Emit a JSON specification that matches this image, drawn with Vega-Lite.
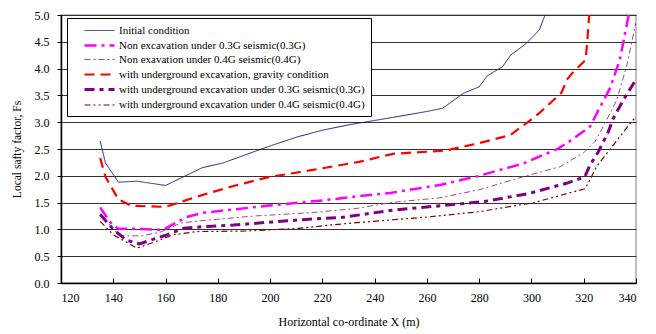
{
  "$schema": "https://vega.github.io/schema/vega-lite/v6.json",
  "width": 575,
  "height": 268,
  "autosize": "none",
  "padding": {"left": 61, "top": 15, "right": 20, "bottom": 51},
  "background": "white",
  "config": {
    "font": "Liberation Serif",
    "view": {"stroke": "#aaaaaa", "strokeWidth": 1.5},
    "axis": {"labelFont": "Liberation Serif", "titleFont": "Liberation Serif", "labelColor": "black", "titleColor": "black", "titleFontWeight": "normal", "labelFontSize": 12, "titleFontSize": 12, "domainColor": "black", "tickColor": "black"},
    "legend": {"labelFont": "Liberation Serif", "labelFontSize": 11, "labelColor": "black"}
  },
  "data": {"values": [
    {"s": "Initial condition", "x": 135, "y": 2.65},
    {"s": "Initial condition", "x": 137, "y": 2.24},
    {"s": "Initial condition", "x": 142, "y": 1.88},
    {"s": "Initial condition", "x": 149, "y": 1.9},
    {"s": "Initial condition", "x": 160, "y": 1.82},
    {"s": "Initial condition", "x": 174, "y": 2.15},
    {"s": "Initial condition", "x": 182, "y": 2.24},
    {"s": "Initial condition", "x": 199, "y": 2.54},
    {"s": "Initial condition", "x": 210, "y": 2.72},
    {"s": "Initial condition", "x": 220, "y": 2.85},
    {"s": "Initial condition", "x": 230, "y": 2.95},
    {"s": "Initial condition", "x": 247, "y": 3.09},
    {"s": "Initial condition", "x": 260, "y": 3.2},
    {"s": "Initial condition", "x": 266, "y": 3.26},
    {"s": "Initial condition", "x": 274, "y": 3.54},
    {"s": "Initial condition", "x": 280, "y": 3.66},
    {"s": "Initial condition", "x": 283, "y": 3.86},
    {"s": "Initial condition", "x": 289, "y": 4.04},
    {"s": "Initial condition", "x": 292, "y": 4.25},
    {"s": "Initial condition", "x": 298, "y": 4.47},
    {"s": "Initial condition", "x": 303, "y": 4.72},
    {"s": "Initial condition", "x": 305.2, "y": 5.0},

    {"s": "Non excavation under 0.3G seismic(0.3G)", "x": 135, "y": 1.41},
    {"s": "Non excavation under 0.3G seismic(0.3G)", "x": 138.7, "y": 1.14},
    {"s": "Non excavation under 0.3G seismic(0.3G)", "x": 142, "y": 1.01},
    {"s": "Non excavation under 0.3G seismic(0.3G)", "x": 150, "y": 1.01},
    {"s": "Non excavation under 0.3G seismic(0.3G)", "x": 159, "y": 0.99},
    {"s": "Non excavation under 0.3G seismic(0.3G)", "x": 168, "y": 1.23},
    {"s": "Non excavation under 0.3G seismic(0.3G)", "x": 174.4, "y": 1.31},
    {"s": "Non excavation under 0.3G seismic(0.3G)", "x": 198.7, "y": 1.44},
    {"s": "Non excavation under 0.3G seismic(0.3G)", "x": 220, "y": 1.54},
    {"s": "Non excavation under 0.3G seismic(0.3G)", "x": 234, "y": 1.62},
    {"s": "Non excavation under 0.3G seismic(0.3G)", "x": 246, "y": 1.68},
    {"s": "Non excavation under 0.3G seismic(0.3G)", "x": 265, "y": 1.83},
    {"s": "Non excavation under 0.3G seismic(0.3G)", "x": 280, "y": 2.0},
    {"s": "Non excavation under 0.3G seismic(0.3G)", "x": 288, "y": 2.11},
    {"s": "Non excavation under 0.3G seismic(0.3G)", "x": 297, "y": 2.23},
    {"s": "Non excavation under 0.3G seismic(0.3G)", "x": 304.5, "y": 2.39},
    {"s": "Non excavation under 0.3G seismic(0.3G)", "x": 310, "y": 2.5},
    {"s": "Non excavation under 0.3G seismic(0.3G)", "x": 315.4, "y": 2.67},
    {"s": "Non excavation under 0.3G seismic(0.3G)", "x": 322.4, "y": 2.92},
    {"s": "Non excavation under 0.3G seismic(0.3G)", "x": 330, "y": 3.63},
    {"s": "Non excavation under 0.3G seismic(0.3G)", "x": 333.8, "y": 4.16},
    {"s": "Non excavation under 0.3G seismic(0.3G)", "x": 337.2, "y": 5.0},

    {"s": "Non exavation under 0.4G seismic(0.4G)", "x": 135, "y": 1.3},
    {"s": "Non exavation under 0.4G seismic(0.4G)", "x": 140, "y": 1.0},
    {"s": "Non exavation under 0.4G seismic(0.4G)", "x": 143, "y": 0.88},
    {"s": "Non exavation under 0.4G seismic(0.4G)", "x": 151, "y": 0.88},
    {"s": "Non exavation under 0.4G seismic(0.4G)", "x": 158, "y": 0.95},
    {"s": "Non exavation under 0.4G seismic(0.4G)", "x": 166, "y": 1.12},
    {"s": "Non exavation under 0.4G seismic(0.4G)", "x": 173, "y": 1.16},
    {"s": "Non exavation under 0.4G seismic(0.4G)", "x": 194, "y": 1.25},
    {"s": "Non exavation under 0.4G seismic(0.4G)", "x": 215, "y": 1.31},
    {"s": "Non exavation under 0.4G seismic(0.4G)", "x": 233, "y": 1.39},
    {"s": "Non exavation under 0.4G seismic(0.4G)", "x": 246, "y": 1.5},
    {"s": "Non exavation under 0.4G seismic(0.4G)", "x": 265, "y": 1.59},
    {"s": "Non exavation under 0.4G seismic(0.4G)", "x": 280, "y": 1.74},
    {"s": "Non exavation under 0.4G seismic(0.4G)", "x": 296, "y": 1.97},
    {"s": "Non exavation under 0.4G seismic(0.4G)", "x": 311, "y": 2.17},
    {"s": "Non exavation under 0.4G seismic(0.4G)", "x": 320, "y": 2.43},
    {"s": "Non exavation under 0.4G seismic(0.4G)", "x": 324.3, "y": 2.64},
    {"s": "Non exavation under 0.4G seismic(0.4G)", "x": 327.5, "y": 2.92},
    {"s": "Non exavation under 0.4G seismic(0.4G)", "x": 332.6, "y": 3.41},
    {"s": "Non exavation under 0.4G seismic(0.4G)", "x": 336.4, "y": 4.04},
    {"s": "Non exavation under 0.4G seismic(0.4G)", "x": 339.9, "y": 4.85},

    {"s": "with underground excavation, gravity condition", "x": 135, "y": 2.33},
    {"s": "with underground excavation, gravity condition", "x": 137, "y": 1.98},
    {"s": "with underground excavation, gravity condition", "x": 142, "y": 1.56},
    {"s": "with underground excavation, gravity condition", "x": 147, "y": 1.44},
    {"s": "with underground excavation, gravity condition", "x": 160, "y": 1.42},
    {"s": "with underground excavation, gravity condition", "x": 174, "y": 1.64},
    {"s": "with underground excavation, gravity condition", "x": 186, "y": 1.81},
    {"s": "with underground excavation, gravity condition", "x": 199, "y": 1.97},
    {"s": "with underground excavation, gravity condition", "x": 220, "y": 2.14},
    {"s": "with underground excavation, gravity condition", "x": 234, "y": 2.26},
    {"s": "with underground excavation, gravity condition", "x": 247, "y": 2.41},
    {"s": "with underground excavation, gravity condition", "x": 267, "y": 2.47},
    {"s": "with underground excavation, gravity condition", "x": 280, "y": 2.61},
    {"s": "with underground excavation, gravity condition", "x": 292, "y": 2.76},
    {"s": "with underground excavation, gravity condition", "x": 298, "y": 2.98},
    {"s": "with underground excavation, gravity condition", "x": 303, "y": 3.17},
    {"s": "with underground excavation, gravity condition", "x": 311.5, "y": 3.55},
    {"s": "with underground excavation, gravity condition", "x": 313.5, "y": 3.79},
    {"s": "with underground excavation, gravity condition", "x": 315.5, "y": 3.91},
    {"s": "with underground excavation, gravity condition", "x": 320.7, "y": 4.16},
    {"s": "with underground excavation, gravity condition", "x": 321.3, "y": 4.47},
    {"s": "with underground excavation, gravity condition", "x": 322.1, "y": 5.0},

    {"s": "with underground excavation under 0.3G seismic(0.3G)", "x": 135, "y": 1.28},
    {"s": "with underground excavation under 0.3G seismic(0.3G)", "x": 140, "y": 1.0},
    {"s": "with underground excavation under 0.3G seismic(0.3G)", "x": 145, "y": 0.8},
    {"s": "with underground excavation under 0.3G seismic(0.3G)", "x": 150, "y": 0.73},
    {"s": "with underground excavation under 0.3G seismic(0.3G)", "x": 160, "y": 0.89},
    {"s": "with underground excavation under 0.3G seismic(0.3G)", "x": 167, "y": 1.02},
    {"s": "with underground excavation under 0.3G seismic(0.3G)", "x": 174, "y": 1.05},
    {"s": "with underground excavation under 0.3G seismic(0.3G)", "x": 186, "y": 1.08},
    {"s": "with underground excavation under 0.3G seismic(0.3G)", "x": 201, "y": 1.14},
    {"s": "with underground excavation under 0.3G seismic(0.3G)", "x": 215, "y": 1.19},
    {"s": "with underground excavation under 0.3G seismic(0.3G)", "x": 227, "y": 1.22},
    {"s": "with underground excavation under 0.3G seismic(0.3G)", "x": 247, "y": 1.36},
    {"s": "with underground excavation under 0.3G seismic(0.3G)", "x": 265, "y": 1.44},
    {"s": "with underground excavation under 0.3G seismic(0.3G)", "x": 282, "y": 1.52},
    {"s": "with underground excavation under 0.3G seismic(0.3G)", "x": 299, "y": 1.67},
    {"s": "with underground excavation under 0.3G seismic(0.3G)", "x": 313.4, "y": 1.86},
    {"s": "with underground excavation under 0.3G seismic(0.3G)", "x": 320.4, "y": 1.98},
    {"s": "with underground excavation under 0.3G seismic(0.3G)", "x": 322.4, "y": 2.2},
    {"s": "with underground excavation under 0.3G seismic(0.3G)", "x": 325.6, "y": 2.45},
    {"s": "with underground excavation under 0.3G seismic(0.3G)", "x": 329.4, "y": 2.82},
    {"s": "with underground excavation under 0.3G seismic(0.3G)", "x": 331.3, "y": 3.07},
    {"s": "with underground excavation under 0.3G seismic(0.3G)", "x": 335.1, "y": 3.41},
    {"s": "with underground excavation under 0.3G seismic(0.3G)", "x": 339.9, "y": 3.79},

    {"s": "with underground excavation under 0.4G seismic(0.4G)", "x": 135, "y": 1.15},
    {"s": "with underground excavation under 0.4G seismic(0.4G)", "x": 140, "y": 0.9},
    {"s": "with underground excavation under 0.4G seismic(0.4G)", "x": 149, "y": 0.65},
    {"s": "with underground excavation under 0.4G seismic(0.4G)", "x": 155, "y": 0.75},
    {"s": "with underground excavation under 0.4G seismic(0.4G)", "x": 163, "y": 0.9},
    {"s": "with underground excavation under 0.4G seismic(0.4G)", "x": 172, "y": 0.96},
    {"s": "with underground excavation under 0.4G seismic(0.4G)", "x": 191, "y": 0.97},
    {"s": "with underground excavation under 0.4G seismic(0.4G)", "x": 211, "y": 1.02},
    {"s": "with underground excavation under 0.4G seismic(0.4G)", "x": 227, "y": 1.1},
    {"s": "with underground excavation under 0.4G seismic(0.4G)", "x": 247, "y": 1.18},
    {"s": "with underground excavation under 0.4G seismic(0.4G)", "x": 260, "y": 1.23},
    {"s": "with underground excavation under 0.4G seismic(0.4G)", "x": 280, "y": 1.33},
    {"s": "with underground excavation under 0.4G seismic(0.4G)", "x": 301, "y": 1.5},
    {"s": "with underground excavation under 0.4G seismic(0.4G)", "x": 316, "y": 1.7},
    {"s": "with underground excavation under 0.4G seismic(0.4G)", "x": 320.6, "y": 1.76},
    {"s": "with underground excavation under 0.4G seismic(0.4G)", "x": 324.9, "y": 2.17},
    {"s": "with underground excavation under 0.4G seismic(0.4G)", "x": 331.9, "y": 2.61},
    {"s": "with underground excavation under 0.4G seismic(0.4G)", "x": 338.3, "y": 3.01},
    {"s": "with underground excavation under 0.4G seismic(0.4G)", "x": 340, "y": 3.1}
  ]},
  "mark": {"type": "line", "clip": true, "interpolate": "linear"},
  "encoding": {
    "x": {"field": "x", "type": "quantitative", "title": "Horizontal co-ordinate X (m)",
      "scale": {"domain": [120, 340], "nice": false, "zero": false},
      "axis": {"values": [120,140,160,180,200,220,240,260,280,300,320,340], "format": "d", "grid": false, "tickSize": -5, "labelPadding": 14, "titlePadding": 13, "domainWidth": 1.5}},
    "y": {"field": "y", "type": "quantitative", "title": "Local  safty factor, Fs",
      "scale": {"domain": [0, 5], "nice": false},
      "axis": {"values": [0,0.5,1,1.5,2,2.5,3,3.5,4,4.5,5], "format": ".1f", "grid": true, "gridColor": "#333333", "gridWidth": 1, "gridOpacity": 1, "tickSize": 4, "labelPadding": 8, "titlePadding": 12, "titleFontSize": 11.5, "domainWidth": 1.5}},
    "color": {"field": "s", "type": "nominal", "title": null,
      "scale": {"domain": ["Initial condition", "Non excavation under 0.3G seismic(0.3G)", "Non exavation under 0.4G seismic(0.4G)", "with underground excavation, gravity condition", "with underground excavation under 0.3G seismic(0.3G)", "with underground excavation under 0.4G seismic(0.4G)"],
        "range": ["#1c1c8c", "#ff00ff", "#a04a78", "#ff0000", "#800080", "#800000"]},
      "legend": {"orient": "none", "legendX": 6, "legendY": 3, "symbolType": "M-2.5,0H2.5", "symbolSize": 144, "symbolOffset": 19, "rowPadding": 2, "padding": 6, "strokeColor": "black", "fillColor": "white", "labelOffset": 12, "labelLimit": 400}},
    "strokeDash": {"field": "s", "type": "nominal", "title": null,
      "scale": {"domain": ["Initial condition", "Non excavation under 0.3G seismic(0.3G)", "Non exavation under 0.4G seismic(0.4G)", "with underground excavation, gravity condition", "with underground excavation under 0.3G seismic(0.3G)", "with underground excavation under 0.4G seismic(0.4G)"],
        "range": [[1, 0], [12, 5, 3, 5], [6, 3, 2, 3], [10, 6], [10, 5, 4, 5], [6, 3, 2, 3, 2, 3]]}},
    "strokeWidth": {"field": "s", "type": "nominal", "title": null,
      "scale": {"type": "ordinal", "domain": ["Initial condition", "Non excavation under 0.3G seismic(0.3G)", "Non exavation under 0.4G seismic(0.4G)", "with underground excavation, gravity condition", "with underground excavation under 0.3G seismic(0.3G)", "with underground excavation under 0.4G seismic(0.4G)"],
        "range": [1, 2.5, 1, 2.2, 3, 1.2]}}
  }
}
